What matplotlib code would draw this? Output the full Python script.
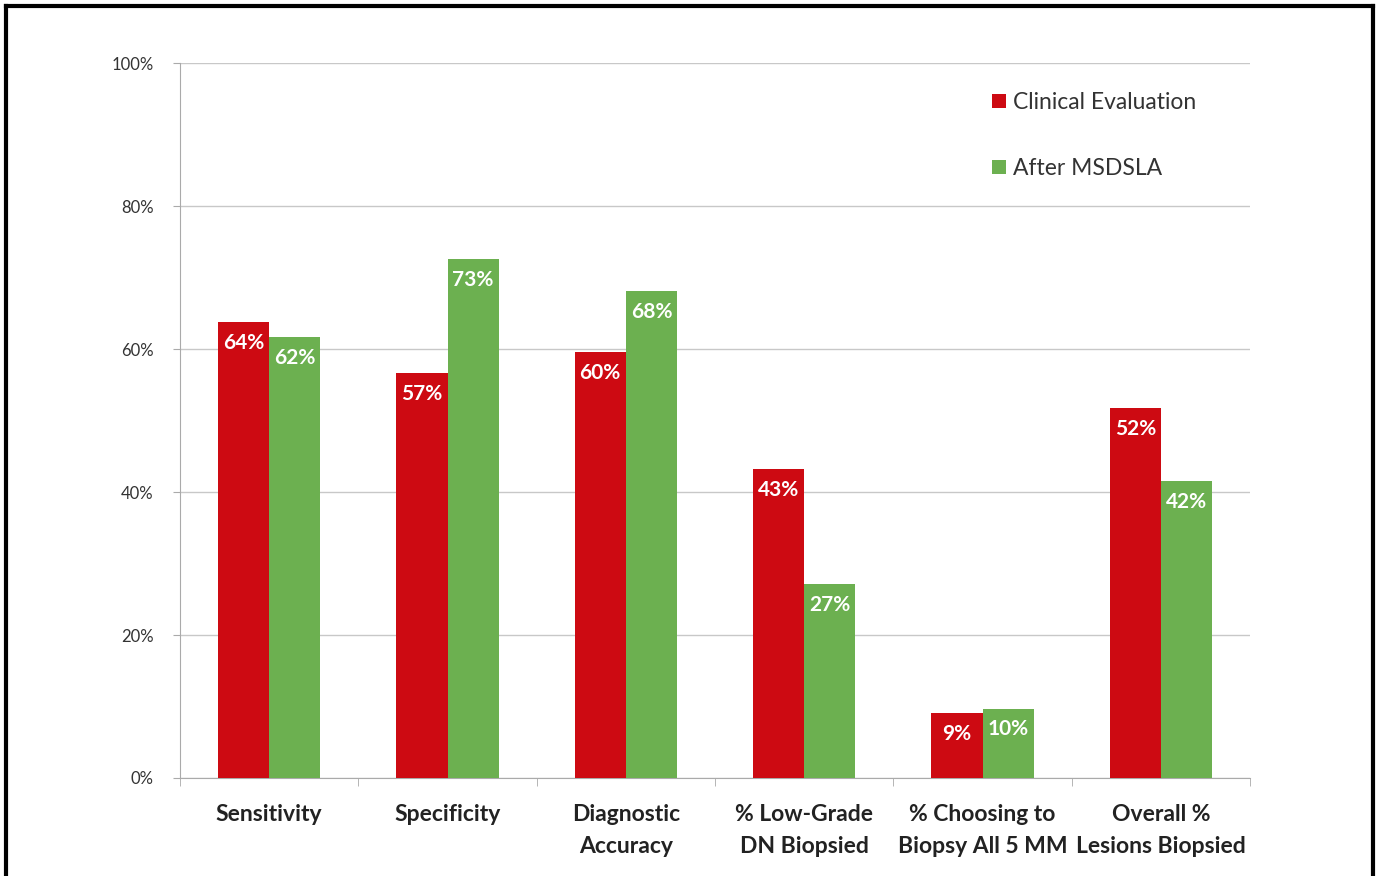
import numpy as np
import matplotlib.pyplot as plt
from matplotlib.lines import Line2D

categories = ['Sensitivity', 'Specificity', 'Diagnostic\nAccuracy',
              '% Low-Grade\nDN Biopsied', '% Choosing to\nBiopsy All 5 MM',
              'Overall %\nLesions Biopsied']
# bar heights (labels show rounded values)
clinical = [63.8, 56.6, 59.6, 43.2, 9.1, 51.7]
msdsla = [61.7, 72.6, 68.1, 27.1, 9.7, 41.5]
clinical_labels = ['64%', '57%', '60%', '43%', '9%', '52%']
msdsla_labels = ['62%', '73%', '68%', '27%', '10%', '42%']
yticks = [0, 20, 40, 60, 80, 100]

red = '#CD0A12'
green = '#6CB050'

plt.rcParams['font.family'] = ['Lato', 'DejaVu Sans']

fig = plt.figure(figsize=(13.81, 8.76), dpi=100)
ax = fig.add_axes([180 / 1381, 1 - 778 / 876, 1070 / 1381, 715 / 876])

x = np.arange(len(categories))
w = 0.287
b1 = ax.bar(x - w / 2, clinical, w, color=red, label='Clinical Evaluation', zorder=3)
b2 = ax.bar(x + w / 2, msdsla, w, color=green, label='After MSDSLA', zorder=3)

for rect, lab in zip(b1, clinical_labels):
    ax.text(rect.get_x() + rect.get_width() / 2, rect.get_height() - 1.5, lab,
            ha='center', va='top', color='white', fontsize=15, fontweight='bold', zorder=4)
for rect, lab in zip(b2, msdsla_labels):
    ax.text(rect.get_x() + rect.get_width() / 2, rect.get_height() - 1.5, lab,
            ha='center', va='top', color='white', fontsize=15, fontweight='bold', zorder=4)

ax.set_xlim(-0.5, len(categories) - 0.5)
ax.set_ylim(0, 100)
ax.set_yticks(yticks)
ax.set_yticklabels([f'{t}%' for t in yticks], fontsize=12, color='#333333')
ax.yaxis.grid(True, color='#C8C8C8', linewidth=1, zorder=0)
ax.tick_params(axis='y', length=5, color='#AAAAAA', pad=14)

ax.set_xticks(x)
ax.set_xticklabels(categories, fontsize=16.5, fontweight='bold', color='#222222', linespacing=1.6)
ax.tick_params(axis='x', length=0, pad=19)
ax.set_xticks(np.arange(-0.5, len(categories)), minor=True)
ax.tick_params(axis='x', which='minor', length=6, color='#AAAAAA')

for s in ['top', 'right']:
    ax.spines[s].set_visible(False)
ax.spines['left'].set_color('#AAAAAA')
ax.spines['bottom'].set_color('#AAAAAA')

leg = ax.legend(loc='upper left', bbox_to_anchor=(0.74, 0.988), frameon=False,
                fontsize=16.5, handlelength=0.6, handleheight=0.6, handletextpad=0.3,
                labelspacing=1.95, labelcolor='#333333')

# outer frame
for xs, ys in [([6 / 1381, 6 / 1381], [0, 1 - 6 / 876]),
               ([1373 / 1381, 1373 / 1381], [0, 1 - 6 / 876]),
               ([6 / 1381, 1373 / 1381], [1 - 6 / 876, 1 - 6 / 876])]:
    fig.add_artist(Line2D(xs, ys, color='black', linewidth=3, transform=fig.transFigure))

fig.savefig('out.png', dpi=100)
